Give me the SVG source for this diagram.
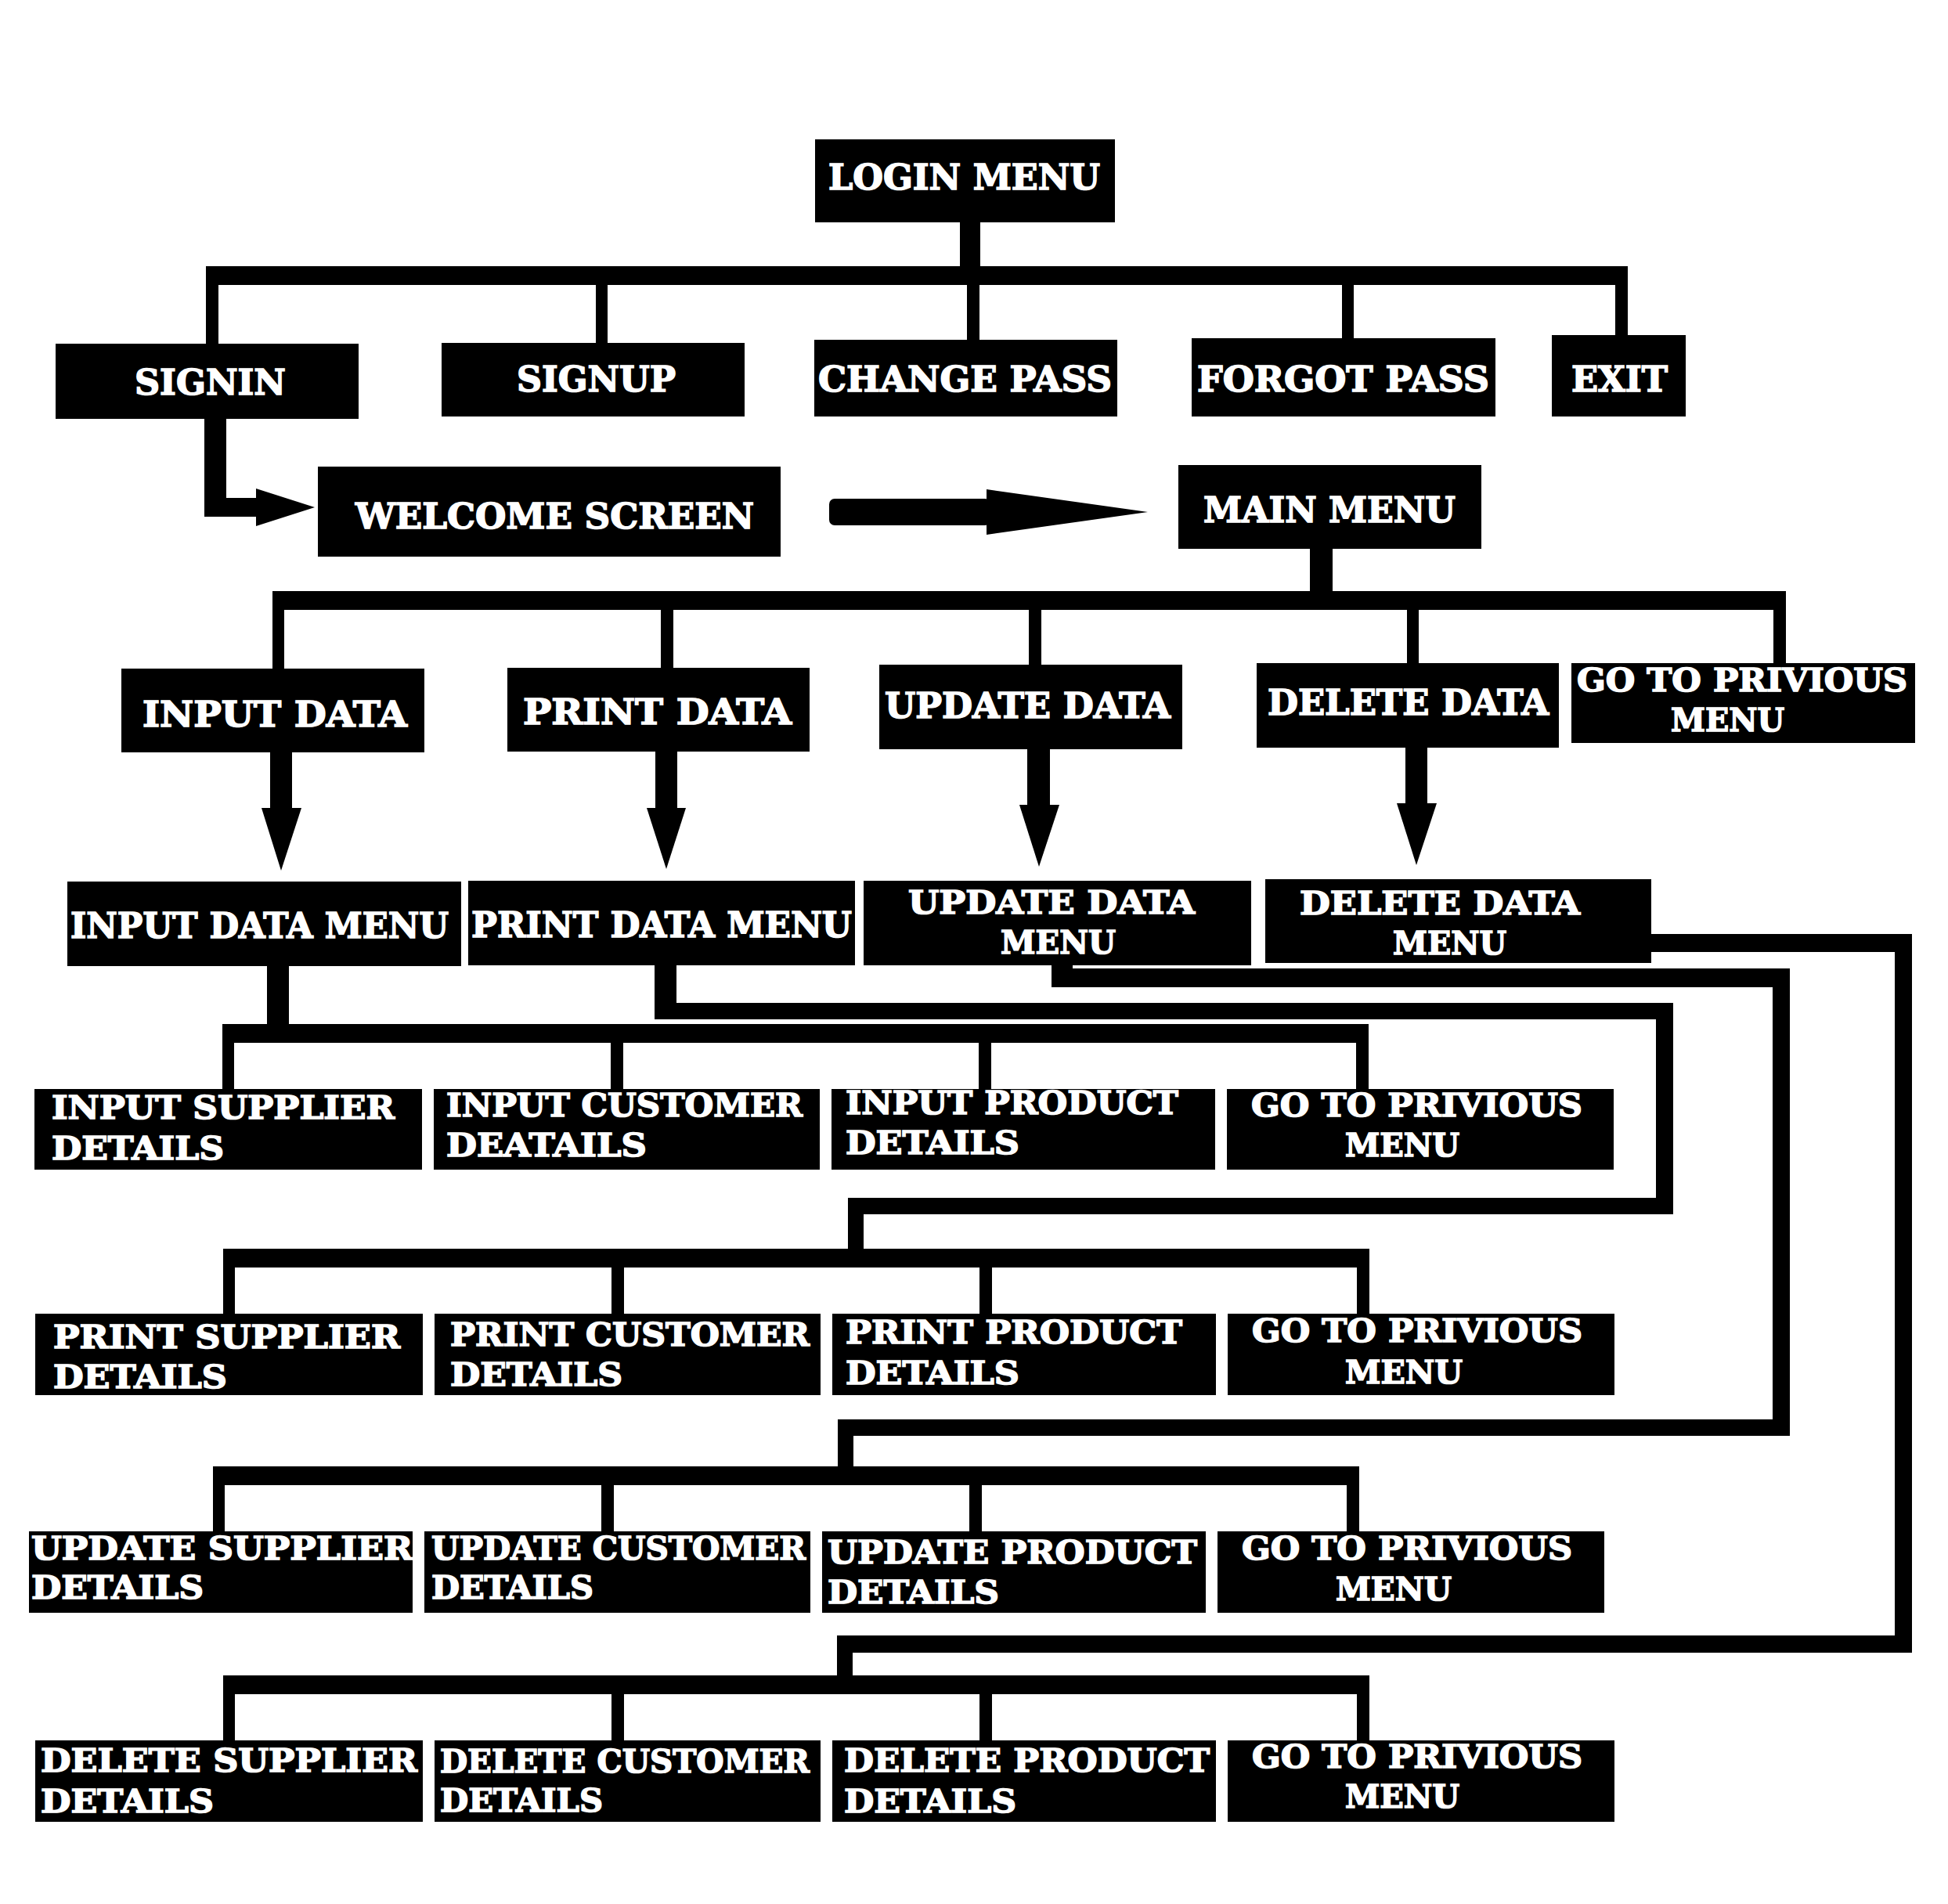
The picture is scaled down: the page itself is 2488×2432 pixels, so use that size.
<svg xmlns="http://www.w3.org/2000/svg" width="2488" height="2432" viewBox="0 0 2488 2432">
<style>
.bg{fill:#fff}
.b{fill:#000}
.c{fill:#000}
.t{fill:#fff;stroke:#fff;stroke-width:1.6px;stroke-linejoin:miter;font-family:"DejaVu Serif","Liberation Serif",serif;font-weight:bold}
.l{font-size:45px}
.s{font-size:41px}
</style>
<rect class="bg" x="0" y="0" width="2488" height="2432"/>
<g id="connectors">
<!-- login -->
<rect class="c" x="1226" y="280" width="26" height="70"/>
<rect class="c" x="263" y="340" width="1816" height="24"/>
<rect class="c" x="263" y="340" width="16" height="102"/>
<rect class="c" x="761" y="340" width="15" height="100"/>
<rect class="c" x="1235" y="340" width="16" height="96"/>
<rect class="c" x="1714" y="340" width="15" height="94"/>
<rect class="c" x="2063" y="340" width="16" height="90"/>
<!-- signin to welcome -->
<rect class="c" x="261" y="530" width="28" height="130"/>
<rect class="c" x="261" y="636" width="68" height="24"/>
<polygon class="c" points="327,624 327,672 402,648"/>
<!-- welcome to main -->
<rect class="c" x="1059" y="637" width="206" height="34" rx="7"/>
<polygon class="c" points="1260,625 1260,683 1466,654"/>
<!-- main menu -->
<rect class="c" x="1673" y="698" width="29" height="70"/>
<rect class="c" x="348" y="755" width="1933" height="24"/>
<rect class="c" x="348" y="755" width="15" height="101"/>
<rect class="c" x="844" y="755" width="16" height="100"/>
<rect class="c" x="1314" y="755" width="16" height="96"/>
<rect class="c" x="1797" y="755" width="15" height="94"/>
<rect class="c" x="2265" y="755" width="16" height="94"/>
<!-- down arrows -->
<rect class="c" x="345" y="958" width="28" height="76"/>
<polygon class="c" points="334,1032 385,1032 359,1112"/>
<rect class="c" x="837" y="957" width="28" height="77"/>
<polygon class="c" points="826,1032 876,1032 851,1110"/>
<rect class="c" x="1312" y="954" width="29" height="76"/>
<polygon class="c" points="1302,1028 1353,1028 1327,1107"/>
<rect class="c" x="1795" y="952" width="28" height="76"/>
<polygon class="c" points="1784,1026 1835,1026 1809,1105"/>
<!-- input sub -->
<rect class="c" x="341" y="1230" width="28" height="90"/>
<rect class="c" x="284" y="1308" width="1464" height="24"/>
<rect class="c" x="284" y="1308" width="15" height="85"/>
<rect class="c" x="780" y="1308" width="16" height="85"/>
<rect class="c" x="1250" y="1308" width="16" height="85"/>
<rect class="c" x="1732" y="1308" width="16" height="85"/>
<!-- print sub -->
<rect class="c" x="836" y="1230" width="28" height="72"/>
<rect class="c" x="836" y="1281" width="1301" height="21"/>
<rect class="c" x="2115" y="1281" width="22" height="270"/>
<rect class="c" x="1083" y="1530" width="1054" height="21"/>
<rect class="c" x="1083" y="1530" width="20" height="75"/>
<rect class="c" x="285" y="1595" width="1464" height="24"/>
<rect class="c" x="285" y="1595" width="15" height="85"/>
<rect class="c" x="781" y="1595" width="16" height="85"/>
<rect class="c" x="1251" y="1595" width="16" height="85"/>
<rect class="c" x="1733" y="1595" width="16" height="85"/>
<!-- update sub -->
<rect class="c" x="1343" y="1230" width="27" height="31"/>
<rect class="c" x="1343" y="1237" width="943" height="24"/>
<rect class="c" x="2264" y="1237" width="22" height="597"/>
<rect class="c" x="1070" y="1813" width="1216" height="21"/>
<rect class="c" x="1070" y="1813" width="20" height="70"/>
<rect class="c" x="272" y="1873" width="1464" height="24"/>
<rect class="c" x="272" y="1873" width="15" height="85"/>
<rect class="c" x="768" y="1873" width="16" height="85"/>
<rect class="c" x="1238" y="1873" width="16" height="85"/>
<rect class="c" x="1720" y="1873" width="16" height="85"/>
<!-- delete sub -->
<rect class="c" x="2105" y="1193" width="337" height="23"/>
<rect class="c" x="2420" y="1193" width="22" height="918"/>
<rect class="c" x="1069" y="2089" width="1373" height="22"/>
<rect class="c" x="1069" y="2089" width="20" height="60"/>
<rect class="c" x="285" y="2140" width="1464" height="24"/>
<rect class="c" x="285" y="2140" width="15" height="85"/>
<rect class="c" x="781" y="2140" width="16" height="85"/>
<rect class="c" x="1251" y="2140" width="16" height="85"/>
<rect class="c" x="1733" y="2140" width="16" height="85"/>
</g>

<g id="login-menu"><rect class="b" x="1041" y="178" width="383" height="106"/><text class="t l" x="1058" y="242" textLength="347" lengthAdjust="spacingAndGlyphs">LOGIN MENU</text></g>
<g id="signin"><rect class="b" x="71" y="439" width="387" height="96"/><text class="t l" x="172" y="504" textLength="193" lengthAdjust="spacingAndGlyphs">SIGNIN</text></g>
<g id="signup"><rect class="b" x="564" y="438" width="387" height="94"/><text class="t l" x="660" y="500" textLength="203" lengthAdjust="spacingAndGlyphs">SIGNUP</text></g>
<g id="change-pass"><rect class="b" x="1040" y="434" width="387" height="98"/><text class="t l" x="1045" y="500" textLength="375" lengthAdjust="spacingAndGlyphs">CHANGE PASS</text></g>
<g id="forgot-pass"><rect class="b" x="1522" y="432" width="388" height="100"/><text class="t l" x="1529" y="500" textLength="373" lengthAdjust="spacingAndGlyphs">FORGOT PASS</text></g>
<g id="exit"><rect class="b" x="1982" y="428" width="171" height="104"/><text class="t l" x="2007" y="500" textLength="123" lengthAdjust="spacingAndGlyphs">EXIT</text></g>
<g id="welcome-screen"><rect class="b" x="406" y="596" width="591" height="115"/><text class="t l" x="454" y="675" textLength="509" lengthAdjust="spacingAndGlyphs">WELCOME SCREEN</text></g>
<g id="main-menu"><rect class="b" x="1505" y="594" width="387" height="107"/><text class="t l" x="1537" y="667" textLength="322" lengthAdjust="spacingAndGlyphs">MAIN MENU</text></g>

<g id="input-data"><rect class="b" x="155" y="854" width="387" height="107"/><text class="t l" x="182" y="928" textLength="338" lengthAdjust="spacingAndGlyphs">INPUT DATA</text></g>
<g id="print-data"><rect class="b" x="648" y="853" width="386" height="107"/><text class="t l" x="668" y="925" textLength="343" lengthAdjust="spacingAndGlyphs">PRINT DATA</text></g>
<g id="update-data"><rect class="b" x="1123" y="849" width="387" height="108"/><text class="t l" x="1130" y="917" textLength="365" lengthAdjust="spacingAndGlyphs">UPDATE DATA</text></g>
<g id="delete-data"><rect class="b" x="1605" y="847" width="386" height="108"/><text class="t l" x="1619" y="913" textLength="359" lengthAdjust="spacingAndGlyphs">DELETE DATA</text></g>
<g id="go-back-main"><rect class="b" x="2007" y="847" width="439" height="102"/><text class="t s" x="2014" y="883" textLength="422" lengthAdjust="spacingAndGlyphs">GO TO PRIVIOUS</text><text class="t s" x="2134" y="934" textLength="145" lengthAdjust="spacingAndGlyphs">MENU</text></g>

<g id="input-data-menu"><rect class="b" x="86" y="1126" width="503" height="108"/><text class="t l" x="90" y="1198" textLength="483" lengthAdjust="spacingAndGlyphs">INPUT DATA MENU</text></g>
<g id="print-data-menu"><rect class="b" x="598" y="1125" width="494" height="108"/><text class="t l" x="602" y="1197" textLength="486" lengthAdjust="spacingAndGlyphs">PRINT DATA MENU</text></g>
<g id="update-data-menu"><rect class="b" x="1103" y="1125" width="495" height="108"/><text class="t s" x="1160" y="1167" textLength="366" lengthAdjust="spacingAndGlyphs">UPDATE DATA</text><text class="t s" x="1278" y="1218" textLength="147" lengthAdjust="spacingAndGlyphs">MENU</text></g>
<g id="delete-data-menu"><rect class="b" x="1616" y="1123" width="493" height="107"/><text class="t s" x="1660" y="1168" textLength="358" lengthAdjust="spacingAndGlyphs">DELETE DATA</text><text class="t s" x="1779" y="1219" textLength="145" lengthAdjust="spacingAndGlyphs">MENU</text></g>

<g id="input-supplier"><rect class="b" x="44" y="1391" width="495" height="103"/><text class="t s" x="66" y="1429" textLength="438" lengthAdjust="spacingAndGlyphs">INPUT SUPPLIER</text><text class="t s" x="66" y="1481" textLength="220" lengthAdjust="spacingAndGlyphs">DETAILS</text></g>
<g id="input-customer"><rect class="b" x="554" y="1391" width="493" height="103"/><text class="t s" x="570" y="1426" textLength="455" lengthAdjust="spacingAndGlyphs">INPUT CUSTOMER</text><text class="t s" x="570" y="1477" textLength="256" lengthAdjust="spacingAndGlyphs">DEATAILS</text></g>
<g id="input-product"><rect class="b" x="1062" y="1391" width="490" height="103"/><text class="t s" x="1080" y="1423" textLength="425" lengthAdjust="spacingAndGlyphs">INPUT PRODUCT</text><text class="t s" x="1080" y="1474" textLength="222" lengthAdjust="spacingAndGlyphs">DETAILS</text></g>
<g id="go-back-input"><rect class="b" x="1567" y="1391" width="494" height="103"/><text class="t s" x="1598" y="1426" textLength="423" lengthAdjust="spacingAndGlyphs">GO TO PRIVIOUS</text><text class="t s" x="1718" y="1477" textLength="146" lengthAdjust="spacingAndGlyphs">MENU</text></g>

<g id="print-supplier"><rect class="b" x="45" y="1678" width="495" height="104"/><text class="t s" x="68" y="1722" textLength="443" lengthAdjust="spacingAndGlyphs">PRINT SUPPLIER</text><text class="t s" x="68" y="1773" textLength="222" lengthAdjust="spacingAndGlyphs">DETAILS</text></g>
<g id="print-customer"><rect class="b" x="555" y="1678" width="493" height="104"/><text class="t s" x="575" y="1719" textLength="459" lengthAdjust="spacingAndGlyphs">PRINT CUSTOMER</text><text class="t s" x="575" y="1770" textLength="220" lengthAdjust="spacingAndGlyphs">DETAILS</text></g>
<g id="print-product"><rect class="b" x="1063" y="1678" width="490" height="104"/><text class="t s" x="1080" y="1716" textLength="430" lengthAdjust="spacingAndGlyphs">PRINT PRODUCT</text><text class="t s" x="1080" y="1768" textLength="222" lengthAdjust="spacingAndGlyphs">DETAILS</text></g>
<g id="go-back-print"><rect class="b" x="1568" y="1678" width="494" height="104"/><text class="t s" x="1599" y="1714" textLength="422" lengthAdjust="spacingAndGlyphs">GO TO PRIVIOUS</text><text class="t s" x="1718" y="1767" textLength="150" lengthAdjust="spacingAndGlyphs">MENU</text></g>

<g id="update-supplier"><rect class="b" x="37" y="1956" width="490" height="104"/><text class="t s" x="40" y="1992" textLength="487" lengthAdjust="spacingAndGlyphs">UPDATE SUPPLIER</text><text class="t s" x="40" y="2042" textLength="220" lengthAdjust="spacingAndGlyphs">DETAILS</text></g>
<g id="update-customer"><rect class="b" x="542" y="1956" width="493" height="104"/><text class="t s" x="551" y="1992" textLength="478" lengthAdjust="spacingAndGlyphs">UPDATE CUSTOMER</text><text class="t s" x="551" y="2042" textLength="207" lengthAdjust="spacingAndGlyphs">DETAILS</text></g>
<g id="update-product"><rect class="b" x="1050" y="1956" width="490" height="104"/><text class="t s" x="1057" y="1997" textLength="472" lengthAdjust="spacingAndGlyphs">UPDATE PRODUCT</text><text class="t s" x="1057" y="2048" textLength="219" lengthAdjust="spacingAndGlyphs">DETAILS</text></g>
<g id="go-back-update"><rect class="b" x="1555" y="1956" width="494" height="104"/><text class="t s" x="1586" y="1992" textLength="422" lengthAdjust="spacingAndGlyphs">GO TO PRIVIOUS</text><text class="t s" x="1706" y="2044" textLength="148" lengthAdjust="spacingAndGlyphs">MENU</text></g>

<g id="delete-supplier"><rect class="b" x="45" y="2223" width="495" height="104"/><text class="t s" x="52" y="2263" textLength="481" lengthAdjust="spacingAndGlyphs">DELETE SUPPLIER</text><text class="t s" x="52" y="2315" textLength="221" lengthAdjust="spacingAndGlyphs">DETAILS</text></g>
<g id="delete-customer"><rect class="b" x="555" y="2223" width="493" height="104"/><text class="t s" x="562" y="2264" textLength="472" lengthAdjust="spacingAndGlyphs">DELETE CUSTOMER</text><text class="t s" x="562" y="2314" textLength="208" lengthAdjust="spacingAndGlyphs">DETAILS</text></g>
<g id="delete-product"><rect class="b" x="1063" y="2223" width="490" height="104"/><text class="t s" x="1078" y="2263" textLength="467" lengthAdjust="spacingAndGlyphs">DELETE PRODUCT</text><text class="t s" x="1078" y="2315" textLength="220" lengthAdjust="spacingAndGlyphs">DETAILS</text></g>
<g id="go-back-delete"><rect class="b" x="1568" y="2223" width="494" height="104"/><text class="t s" x="1599" y="2258" textLength="422" lengthAdjust="spacingAndGlyphs">GO TO PRIVIOUS</text><text class="t s" x="1718" y="2309" textLength="146" lengthAdjust="spacingAndGlyphs">MENU</text></g>
</svg>
